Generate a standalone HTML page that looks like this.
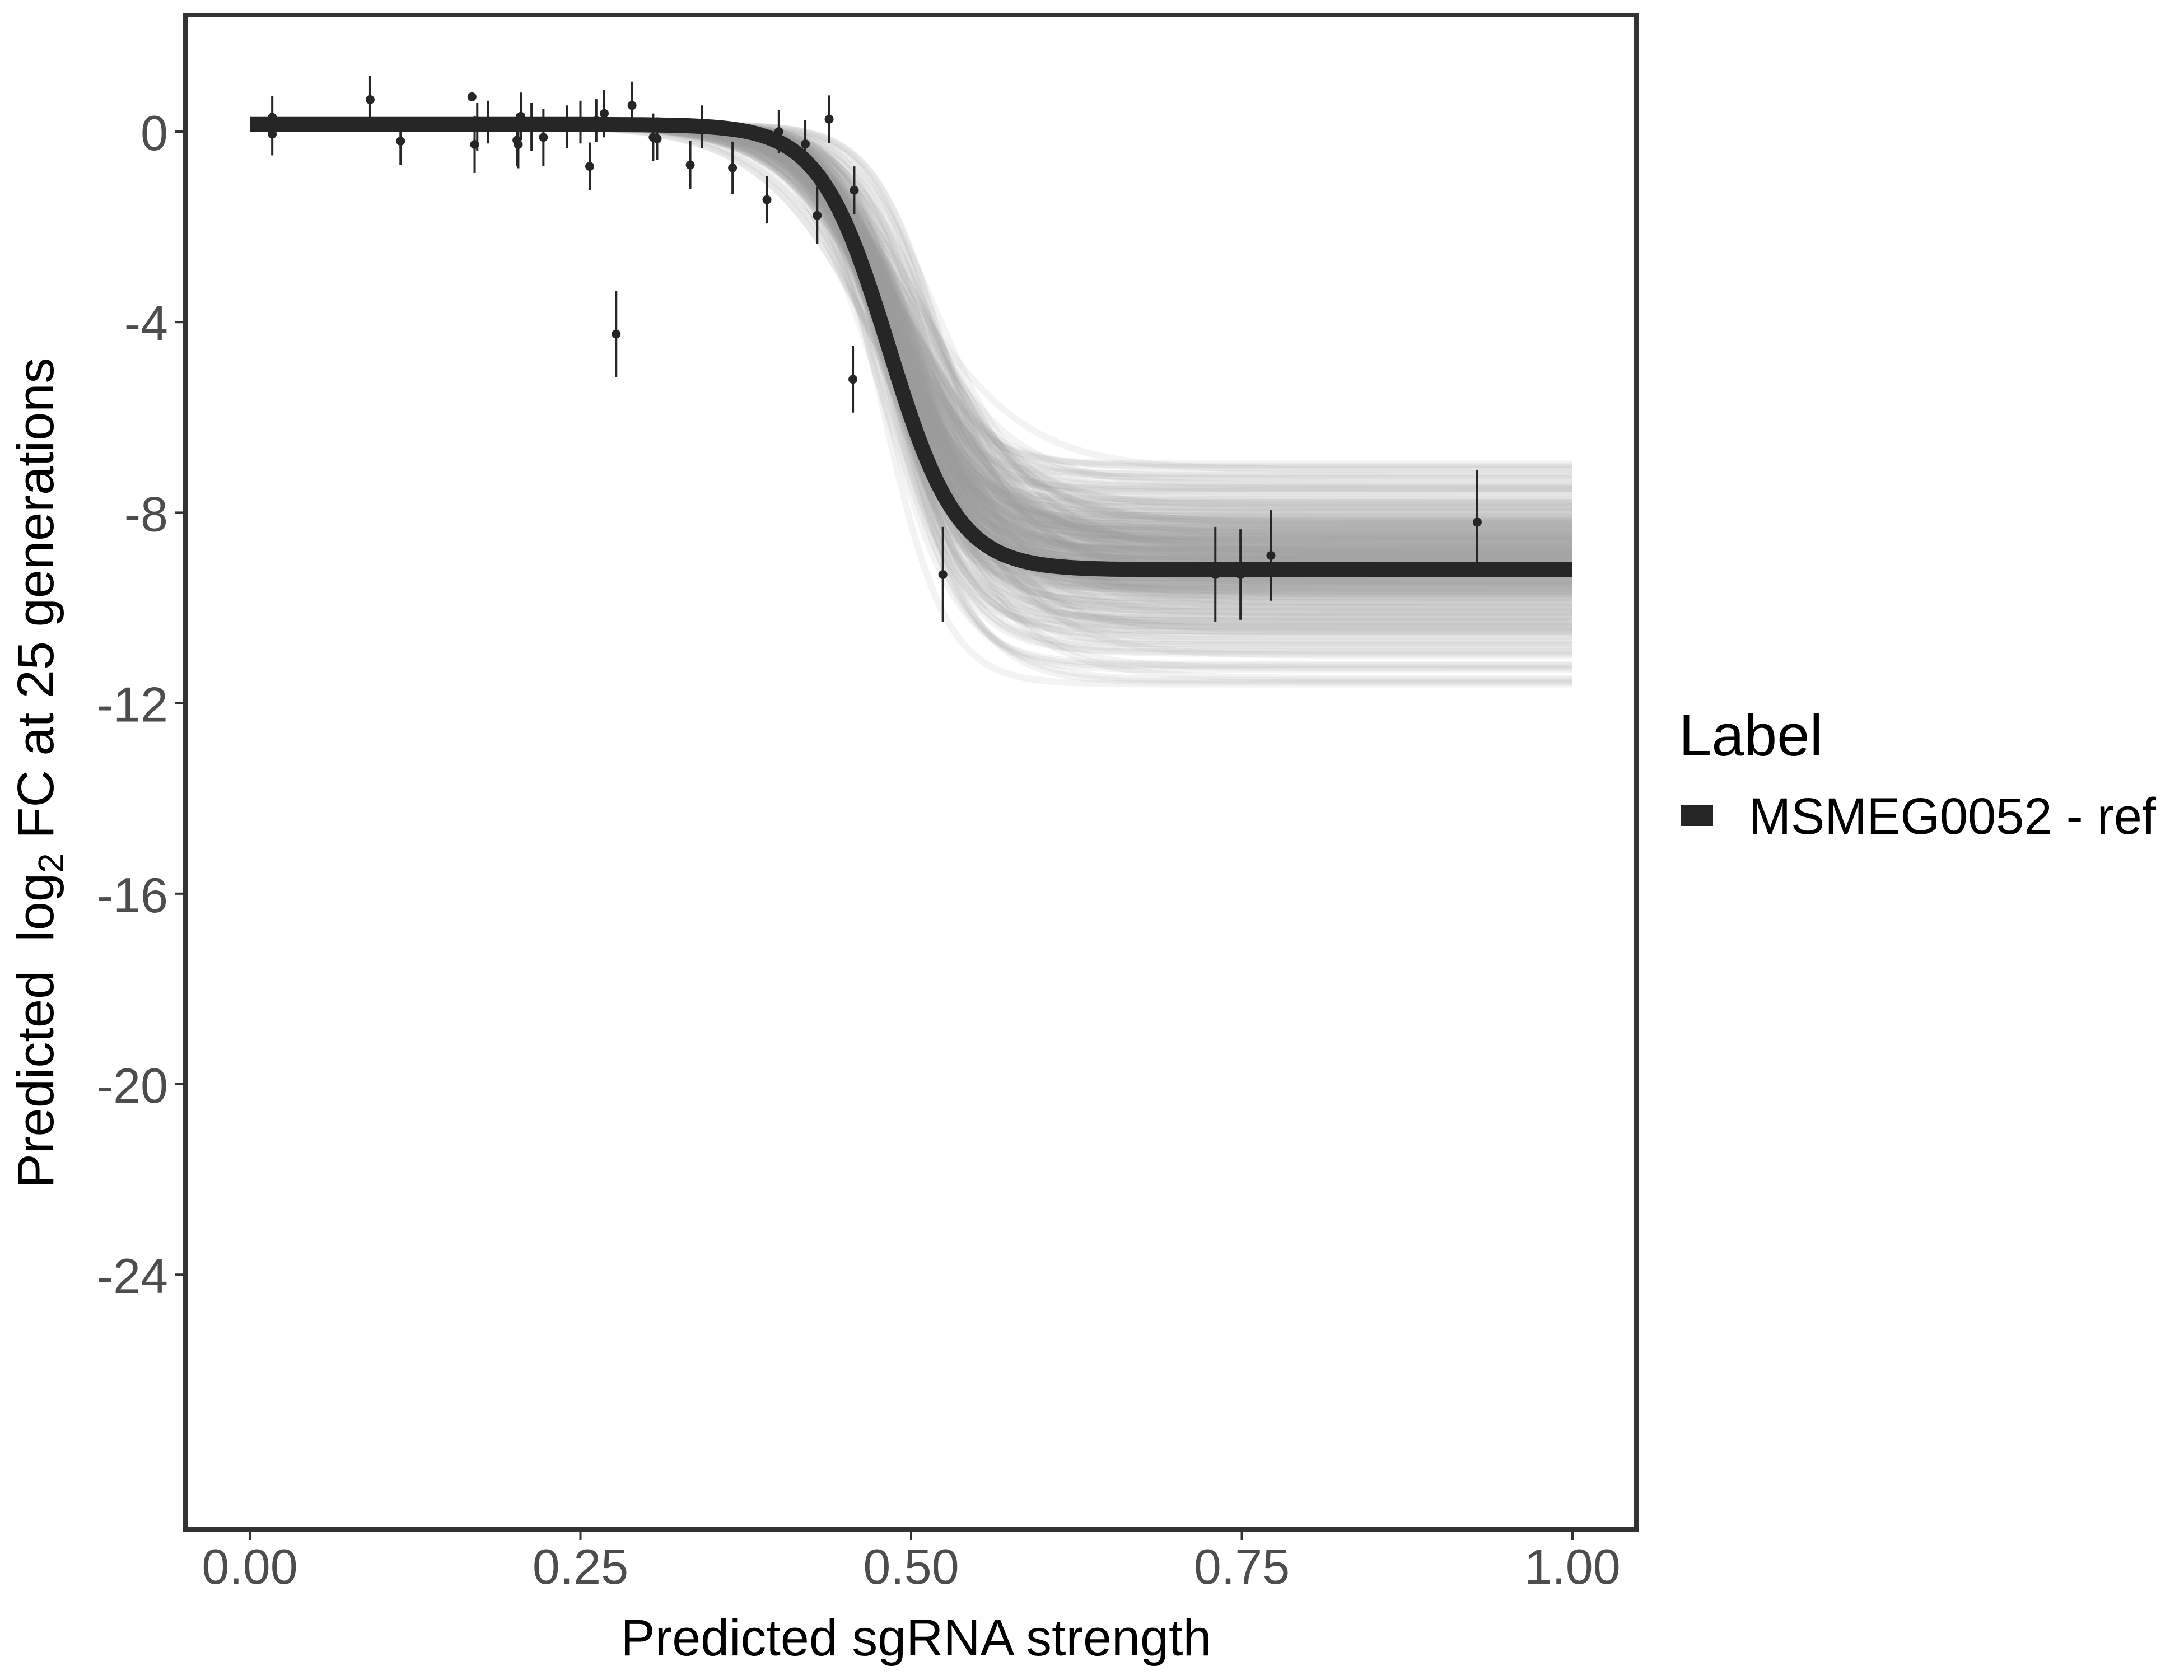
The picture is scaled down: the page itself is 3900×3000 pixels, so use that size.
<!DOCTYPE html>
<html><head><meta charset="utf-8"><style>
html,body{margin:0;padding:0;background:#fff;}
svg{display:block;font-family:"Liberation Sans",Arial,sans-serif;}
</style></head><body>
<svg id="chart" width="3900" height="3000" viewBox="0 0 3900 3000" xmlns="http://www.w3.org/2000/svg">
<rect x="0" y="0" width="3900" height="3000" fill="#fff"/>
<g id="draws"></g>
<g id="mainline"></g>
<g id="points"></g>
<rect x="331" y="27" width="2591" height="2704" fill="none" stroke="#333" stroke-width="8"/>
<g id="xaxis"></g>
<g id="yaxis"></g>
<text x="1636" y="2956" font-size="92" text-anchor="middle" fill="#000" textLength="1055" lengthAdjust="spacingAndGlyphs">Predicted sgRNA strength</text>
<text transform="translate(95,1380) rotate(-90)" font-size="92" text-anchor="middle" fill="#000">Predicted&#160; log<tspan font-size="64" dy="18">2</tspan><tspan dy="-18"> FC at 25 generations</tspan></text>
<g>
<text x="2998" y="1349" font-size="105" fill="#000">Label</text>
<rect x="3002" y="1438" width="57" height="37" fill="#262626"/>
<text x="3123" y="1489" font-size="92" fill="#000" textLength="727" lengthAdjust="spacingAndGlyphs">MSMEG0052 - ref</text>
</g>
</svg>
<script>
const xTicks = [0, 0.25, 0.5, 0.75, 1.0];
const xTickLabels = ["0.00", "0.25", "0.50", "0.75", "1.00"];
const yTicks = [0, -4, -8, -12, -16, -20, -24];
const yTickLabels = ["0", "-4", "-8", "-12", "-16", "-20", "-24"];
const fitTop = 0.15;
const fitBottom = -9.2;
const fitMid = 0.483;
const fitScale = 0.026;
const drawBottoms = [-7.1,-7.3,-7.5,-7.6,-7.8,-7.9,-8.0,-8.1,-8.2,-8.25,-8.3,-8.4,-8.45,-8.5,-8.55,-8.6,-8.65,-8.7,-8.75,-8.8,-8.85,-8.9,-8.95,-9.0,-9.05,-9.1,-9.15,-9.2,-9.25,-9.3,-9.35,-9.4,-9.45,-9.5,-9.55,-9.6,-9.65,-9.7,-9.8,-9.9,-10.0,-10.1,-10.2,-10.3,-10.4,-10.5,-10.6,-10.8,-11.0,-11.3,-11.6,-8.35,-8.6,-8.9,-9.1,-9.3,-9.5,-9.75,-9.0,-8.8];
const drawMids = [0.50,0.49,0.485,0.49,0.48,0.495,0.487,0.49,0.51,0.485,0.478,0.49,0.50,0.488,0.492,0.48,0.50,0.49,0.486,0.52];
const drawScales = [0.045,0.035,0.026,0.032,0.025,0.030,0.028,0.034,0.040,0.027,0.024,0.031,0.036,0.029,0.027,0.025,0.033,0.030,0.028,0.042];
const ptX = [0.017,0.017,0.091,0.114,0.168,0.170,0.172,0.180,0.202,0.203,0.205,0.213,0.222,0.240,0.250,0.257,0.262,0.268,0.277,0.289,0.305,0.308,0.333,0.342,0.365,0.391,0.400,0.420,0.429,0.438,0.456,0.457,0.524,0.730,0.749,0.772,0.928];
const ptY = [0.3,-0.05,0.67,-0.2,0.73,-0.27,0.1,0.2,-0.18,-0.27,0.32,0.1,-0.12,0.1,0.2,-0.73,0.23,0.38,-4.25,0.55,-0.12,-0.15,-0.7,0.1,-0.76,-1.43,0.0,-0.26,-1.76,0.26,-5.2,-1.23,-9.3,-9.3,-9.3,-8.9,-8.2];
const ptErr = [0.45,0.45,0.5,0.5,0,0.6,0.5,0.45,0.55,0.5,0.5,0.5,0.6,0.45,0.45,0.5,0.45,0.5,0.9,0.5,0.5,0.45,0.5,0.45,0.55,0.5,0.45,0.5,0.6,0.5,0.7,0.5,1.0,1.0,0.95,0.95,1.1];

const NS = "http://www.w3.org/2000/svg";
const X0 = 446, XW = 2362, Y0 = 235, YU = 85.05;
function sx(v){ return X0 + v*XW; }
function sy(v){ return Y0 - v*YU; }
function sig(x, top, bot, mid, s){ return top + (bot-top)/(1+Math.exp(-(x-mid)/s)); }
function curvePath(top, bot, mid, s){
  let d = "";
  for(let i=0;i<=200;i++){ const x=i/200; d += (i?"L":"M")+sx(x).toFixed(1)+","+sy(sig(x,top,bot,mid,s)).toFixed(1); }
  return d;
}
const gDraws = document.getElementById("draws");
for(let i=0;i<drawBottoms.length;i++){
  for(let k=0;k<4;k++){
    const p = document.createElementNS(NS,"path");
    p.setAttribute("d", curvePath(fitTop, drawBottoms[i]+k*0.04, drawMids[(i+k*7)%drawMids.length], drawScales[(i+k*3)%drawScales.length]));
    p.setAttribute("fill","none");
    p.setAttribute("stroke","#9a9a9a");
    p.setAttribute("stroke-opacity","0.12");
    p.setAttribute("stroke-width","12");
    
    
    gDraws.appendChild(p);
  }
}
const gMain = document.getElementById("mainline");
const mp = document.createElementNS(NS,"path");
mp.setAttribute("d", curvePath(fitTop, fitBottom, fitMid, fitScale));
mp.setAttribute("fill","none");
mp.setAttribute("stroke","#262626");
mp.setAttribute("stroke-width","27");


gMain.appendChild(mp);

const gPts = document.getElementById("points");
for(let i=0;i<ptX.length;i++){
  if(ptErr[i]>0){
    const l = document.createElementNS(NS,"line");
    l.setAttribute("x1",sx(ptX[i])); l.setAttribute("x2",sx(ptX[i]));
    l.setAttribute("y1",sy(ptY[i]+ptErr[i])); l.setAttribute("y2",sy(ptY[i]-ptErr[i]));
    l.setAttribute("stroke","#262626"); l.setAttribute("stroke-width","4");
    
    
    gPts.appendChild(l);
  }
  const c = document.createElementNS(NS,"circle");
  c.setAttribute("cx",sx(ptX[i])); c.setAttribute("cy",sy(ptY[i])); c.setAttribute("r","8");
  c.setAttribute("fill","#262626");
  
  
  gPts.appendChild(c);
}
const gx = document.getElementById("xaxis");
for(let i=0;i<xTicks.length;i++){
  const t = document.createElementNS(NS,"line");
  t.setAttribute("x1",sx(xTicks[i])); t.setAttribute("x2",sx(xTicks[i]));
  t.setAttribute("y1","2735"); t.setAttribute("y2","2750");
  t.setAttribute("stroke","#333"); t.setAttribute("stroke-width","4");
  
  
  gx.appendChild(t);
  const tx = document.createElementNS(NS,"text");
  tx.setAttribute("x",sx(xTicks[i])); tx.setAttribute("y","2828");
  tx.setAttribute("text-anchor","middle"); tx.setAttribute("font-size","88"); tx.setAttribute("fill","#4d4d4d");
  tx.textContent = xTickLabels[i];
  
  
  gx.appendChild(tx);
}
const gy = document.getElementById("yaxis");
for(let i=0;i<yTicks.length;i++){
  const t = document.createElementNS(NS,"line");
  t.setAttribute("x1","312"); t.setAttribute("x2","327");
  t.setAttribute("y1",sy(yTicks[i])); t.setAttribute("y2",sy(yTicks[i]));
  t.setAttribute("stroke","#333"); t.setAttribute("stroke-width","4");
  
  
  gy.appendChild(t);
  const tx = document.createElementNS(NS,"text");
  tx.setAttribute("x","300"); tx.setAttribute("y",sy(yTicks[i])+33);
  tx.setAttribute("text-anchor","end"); tx.setAttribute("font-size","88"); tx.setAttribute("fill","#4d4d4d");
  tx.textContent = yTickLabels[i];
  
  
  gy.appendChild(tx);
}
</script>
</body></html>
